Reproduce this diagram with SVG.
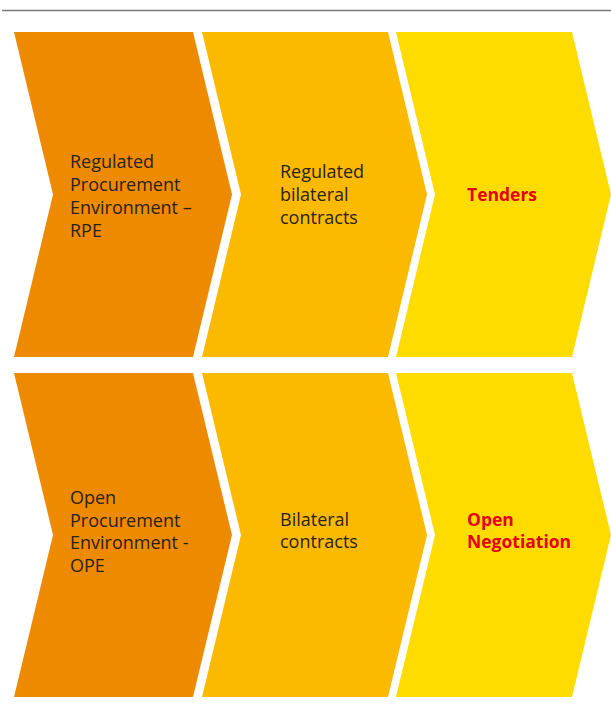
<svg xmlns="http://www.w3.org/2000/svg" width="611" height="713" viewBox="0 0 611 713">
<style>
.c1{fill:#EE8A00}.c2{fill:#FBBA00}.c3{fill:#FFDC00}
text{font-family:"Open Sans","Noto Sans","DejaVu Sans",sans-serif;font-size:18px}
.t{fill:#2a2218}
.r{fill:#E2001A;font-weight:bold;font-size:17.5px}
</style>
<line x1="2" y1="10.5" x2="611" y2="10.5" stroke="#7a7a7a" stroke-width="1.5"/>
<g id="rpe"><polygon class="c1" points="14,32 193,32 232,194.5 193,357 14,357 53,194.5"/>
<text class="t" x="70" y="168">Regulated</text><text class="t" x="70" y="191">Procurement</text><text class="t" x="70" y="214">Environment –</text><text class="t" x="70" y="237">RPE</text></g>
<g id="regulated-bilateral"><polygon class="c2" points="202,32 388,32 427,194.5 388,357 202,357 241,194.5"/>
<text class="t" x="280" y="178">Regulated</text><text class="t" x="280" y="201">bilateral</text><text class="t" x="280" y="224">contracts</text></g>
<g id="tenders"><polygon class="c3" points="396,32 572,32 611,194.5 572,357 396,357 435,194.5"/>
<text class="r" x="467" y="201">Tenders</text></g>
<g id="ope"><polygon class="c1" points="14,373 193,373 232,535 193,697 14,697 53,535"/>
<text class="t" x="70" y="504">Open</text><text class="t" x="70" y="527">Procurement</text><text class="t" x="70" y="549">Environment -</text><text class="t" x="70" y="572">OPE</text></g>
<g id="bilateral"><polygon class="c2" points="202,373 388,373 427,535 388,697 202,697 241,535"/>
<text class="t" x="280" y="526">Bilateral</text><text class="t" x="280" y="548">contracts</text></g>
<g id="open-negotiation"><polygon class="c3" points="396,373 572,373 611,535 572,697 396,697 435,535"/>
<text class="r" x="467" y="526">Open</text><text class="r" x="467" y="548">Negotiation</text></g>
<g id="connectors"/>
</svg>
